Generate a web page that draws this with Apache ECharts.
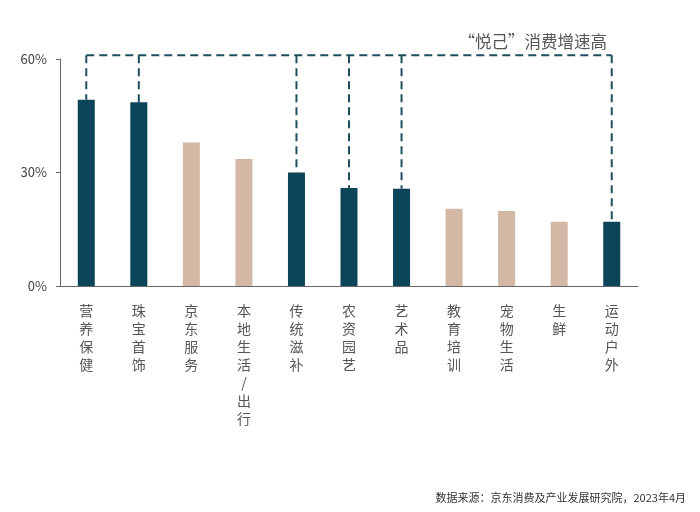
<!DOCTYPE html>
<html>
<head>
<meta charset="utf-8">
<script src="https://cdn.jsdelivr.net/npm/echarts@6/dist/echarts.min.js"></script>
<style>
  html, body { margin: 0; padding: 0; background: #fff; }
  #main { width: 700px; height: 512px; }
</style>
</head>
<body>
<div id="main"></div>
<script>
var categories = ['营养保健', '珠宝首饰', '京东服务', '本地生活/出行', '传统滋补', '农资园艺', '艺术品', '教育培训', '宠物生活', '生鲜', '运动户外'];
var growth = [49.2, 48.6, 37.9, 33.6, 30.0, 25.9, 25.7, 20.4, 19.8, 17.0, 17.0];
var highlighted = [true, true, false, false, true, true, true, false, false, false, true];
var yTicks = [0, 30, 60];
var bracketLevel = 61;

var dark = '#0c4459';
var tan = '#d3b8a5';
var dashColor = '#1f4f5e';
var font = 'Noto Sans CJK SC';

var chartDom = document.getElementById('main');
var myChart = echarts.init(chartDom);

var barData = growth.map(function (v, i) {
  return { value: v, itemStyle: { color: highlighted[i] ? dark : tan } };
});

// drops from the bracket down to each highlighted bar
var dropData = [];
growth.forEach(function (v, i) {
  if (highlighted[i]) dropData.push([i, v]);
});
var firstHi = highlighted.indexOf(true);
var lastHi = highlighted.lastIndexOf(true);

var option = {
  animation: false,
  textStyle: { fontFamily: font },
  title: {
    text: '“悦己”消费增速高',
    right: 88,
    top: 28,
    textStyle: { fontSize: 16.5, fontWeight: 'normal', color: '#555', fontFamily: font }
  },
  graphic: [{
    type: 'text',
    right: 14,
    bottom: 9,
    style: {
      text: '数据来源：京东消费及产业发展研究院，2023年4月',
      fontSize: 11,
      fill: '#333',
      fontFamily: font
    }
  }],
  grid: { left: 60, right: 62, top: 59, bottom: 226, containLabel: false },
  xAxis: {
    type: 'category',
    data: categories,
    axisLine: { show: true, lineStyle: { color: '#666', width: 1 } },
    axisTick: { show: false },
    axisLabel: {
      interval: 0,
      margin: 16,
      fontSize: 14,
      lineHeight: 18,
      color: '#555',
      verticalAlign: 'top',
      formatter: function (v) { return v.split('').join('\n'); }
    }
  },
  yAxis: {
    type: 'value',
    min: yTicks[0],
    max: yTicks[yTicks.length - 1],
    interval: yTicks[1] - yTicks[0],
    axisLine: { show: true, lineStyle: { color: '#666', width: 1 } },
    axisTick: { show: true, length: 4, lineStyle: { color: '#666' } },
    splitLine: { show: false },
    axisLabel: { formatter: '{value}%', fontSize: 13, color: '#444', margin: 13 }
  },
  series: [
    {
      type: 'bar',
      data: barData,
      barWidth: 17
    },
    {
      type: 'line',
      data: [[categories[firstHi], bracketLevel], [categories[lastHi], bracketLevel]],
      symbol: 'none',
      clip: false,
      lineStyle: { color: dashColor, width: 2, type: [8, 5] },
      z: 3
    },
    {
      type: 'custom',
      data: dropData,
      clip: false,
      renderItem: function (params, api) {
        var top = api.coord([api.value(0), bracketLevel]);
        var bottom = api.coord([api.value(0), api.value(1)]);
        return {
          type: 'line',
          shape: { x1: top[0], y1: top[1], x2: bottom[0], y2: bottom[1] },
          style: { stroke: dashColor, lineWidth: 2, lineDash: [8, 5] }
        };
      },
      z: 3
    }
  ]
};

option && myChart.setOption(option);
</script>
</body>
</html>
